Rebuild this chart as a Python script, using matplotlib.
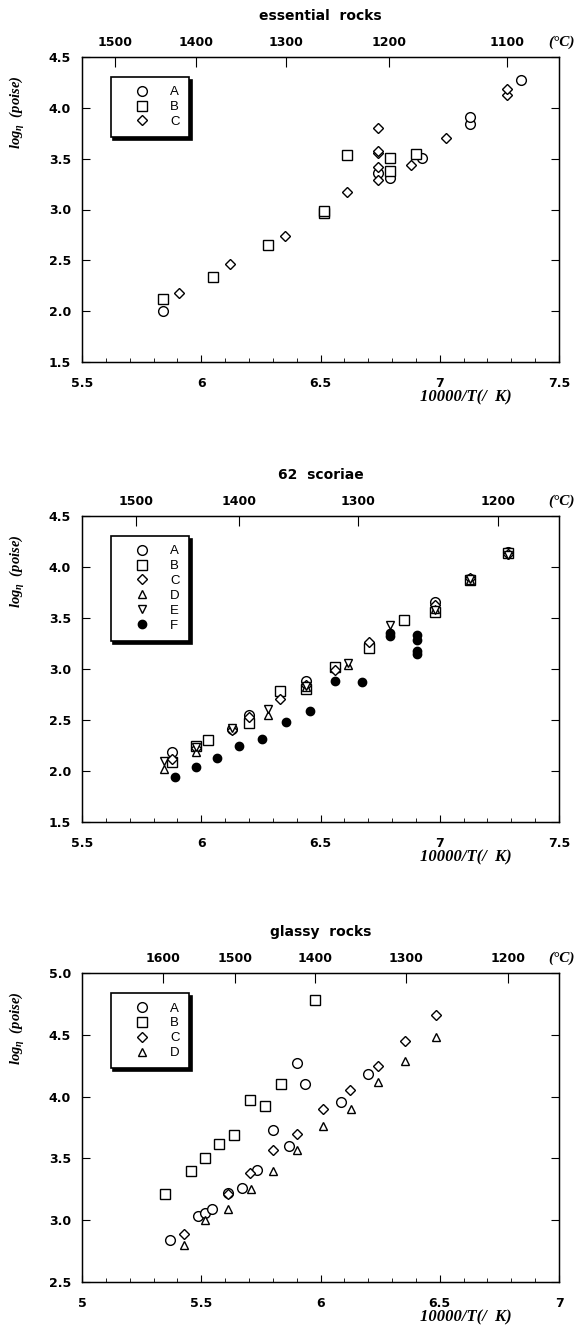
import numpy as np
import matplotlib.pyplot as plt
from matplotlib.ticker import MultipleLocator, FormatStrFormatter

plt.rcParams['mathtext.fontset'] = 'custom'
plt.rcParams['mathtext.it'] = 'Liberation Serif:italic:bold'
plt.rcParams['mathtext.rm'] = 'Liberation Serif:bold'

# ---------------- essential rocks ----------------
ess_A_x = [5.84, 6.74, 6.79, 6.925, 7.127, 7.127, 7.339]
ess_A_y = [2.00, 3.36, 3.31, 3.51, 3.84, 3.91, 4.27]
ess_B_x = [5.84, 6.05, 6.28, 6.515, 6.515, 6.61, 6.79, 6.79, 6.90]
ess_B_y = [2.12, 2.34, 2.65, 2.97, 2.99, 3.54, 3.51, 3.38, 3.55]
ess_C_x = [5.905, 6.12, 6.35, 6.61, 6.74, 6.74, 6.74, 6.74, 6.74, 6.88, 7.025, 7.283, 7.283]
ess_C_y = [2.18, 2.46, 2.74, 3.17, 3.29, 3.42, 3.56, 3.58, 3.80, 3.44, 3.70, 4.13, 4.19]
ess_temps = [1500, 1400, 1300, 1200, 1100]

# ---------------- 62 scoriae ----------------
sco_A_x = [5.878, 6.13, 6.20, 6.44, 6.56, 6.705, 6.979, 7.128, 7.287]
sco_A_y = [2.19, 2.41, 2.55, 2.885, 3.01, 3.24, 3.66, 3.88, 4.15]
sco_B_x = [5.878, 5.976, 6.03, 6.20, 6.33, 6.44, 6.56, 6.705, 6.85, 6.979, 7.128, 7.287]
sco_B_y = [2.09, 2.25, 2.30, 2.47, 2.78, 2.80, 3.02, 3.21, 3.48, 3.56, 3.87, 4.14]
sco_C_x = [5.878, 5.976, 6.13, 6.20, 6.33, 6.44, 6.56, 6.705, 6.979, 7.128, 7.287]
sco_C_y = [2.12, 2.23, 2.40, 2.53, 2.71, 2.84, 2.99, 3.26, 3.63, 3.89, 4.13]
sco_D_x = [5.845, 5.976, 6.28, 6.44, 6.615, 6.979, 7.128]
sco_D_y = [2.02, 2.19, 2.55, 2.82, 3.04, 3.59, 3.87]
sco_E_x = [5.845, 5.976, 6.13, 6.28, 6.44, 6.615, 6.79, 6.979, 7.128, 7.287]
sco_E_y = [2.10, 2.24, 2.42, 2.61, 2.83, 3.06, 3.43, 3.58, 3.88, 4.12]
sco_F_x = [5.889, 5.976, 6.068, 6.157, 6.254, 6.354, 6.457, 6.561, 6.674, 6.79, 6.79,
           6.906, 6.906, 6.906, 6.906]
sco_F_y = [1.94, 2.04, 2.13, 2.25, 2.31, 2.48, 2.59, 2.88, 2.87, 3.32, 3.35,
           3.33, 3.28, 3.18, 3.15]
sco_temps = [1500, 1400, 1300, 1200]
sco_temps_pos = [5.728, 6.158, 6.658, 7.243]   # asi esta dibujado en el original

# ---------------- glassy rocks ----------------
gla_A_x = [5.369, 5.485, 5.516, 5.545, 5.611, 5.67, 5.734, 5.80, 5.868, 5.90, 5.934, 6.085, 6.198]
gla_A_y = [2.84, 3.03, 3.055, 3.09, 3.22, 3.26, 3.41, 3.73, 3.60, 4.27, 4.10, 3.96, 4.18]
gla_B_x = [5.346, 5.455, 5.515, 5.576, 5.639, 5.704, 5.768, 5.834, 5.975]
gla_B_y = [3.215, 3.395, 3.50, 3.62, 3.69, 3.97, 3.92, 4.10, 4.78]
gla_C_x = [5.427, 5.611, 5.704, 5.80, 5.903, 6.011, 6.123, 6.241, 6.356, 6.484]
gla_C_y = [2.89, 3.21, 3.38, 3.565, 3.70, 3.90, 4.05, 4.25, 4.446, 4.66]
gla_D_x = [5.427, 5.515, 5.611, 5.708, 5.80, 5.903, 6.011, 6.126, 6.241, 6.356, 6.484]
gla_D_y = [2.80, 3.00, 3.09, 3.25, 3.40, 3.565, 3.76, 3.90, 4.12, 4.29, 4.48]
gla_temps = [1600, 1500, 1400, 1300, 1200]

# estilos de los simbolos
estilos = {
    'A': dict(marker='o', ms=7, mfc='white'),
    'B': dict(marker='s', ms=7, mfc='white'),
    'C': dict(marker='D', ms=5.5, mfc='white'),
    'D': dict(marker='^', ms=6, mfc='white'),
    'E': dict(marker='v', ms=6, mfc='white'),
    'F': dict(marker='o', ms=6, mfc='black'),
}

fig = plt.figure(figsize=(5.76, 13.31), dpi=100)
W, H = 576, 1331


def crear_ejes(top_px, bot_px):
    return fig.add_axes([82 / W, 1 - bot_px / H, 477 / W, (bot_px - top_px) / H])


def armar_panel(ax, series, xlim, ylim, top_pos, top_labels, titulo):
    for letra, x, y in series:
        ax.plot(x, y, linestyle='none', mec='black', mew=1.0, label=letra, **estilos[letra])
    ax.set_xlim(xlim)
    ax.set_ylim(ylim)
    ax.xaxis.set_major_locator(MultipleLocator(0.5))
    ax.xaxis.set_minor_locator(MultipleLocator(0.1))
    ax.yaxis.set_major_locator(MultipleLocator(0.5))
    ax.xaxis.set_major_formatter(FormatStrFormatter('%g'))
    ax.yaxis.set_major_formatter(FormatStrFormatter('%.1f'))
    ax.tick_params(axis='x', which='major', direction='in', length=5, pad=11)
    ax.tick_params(axis='x', which='minor', direction='in', length=3)
    ax.tick_params(axis='y', which='major', direction='in', length=6, pad=8,
                   left=True, right=True)
    for lab in ax.get_xticklabels() + ax.get_yticklabels():
        lab.set_fontfamily('DejaVu Sans')
        lab.set_fontweight('bold')
        lab.set_fontsize(9)
    for sp in ax.spines.values():
        sp.set_linewidth(1.0)

    # eje superior en grados C
    ax2 = ax.twiny()
    ax2.set_xlim(xlim)
    ax2.set_xticks(top_pos)
    ax2.set_xticklabels([str(t) for t in top_labels], fontfamily='DejaVu Sans',
                        fontweight='bold', fontsize=9)
    ax2.tick_params(axis='x', direction='in', length=7, pad=6)
    ax2.annotate('(°C)', xy=(1.034, 1.0), xycoords='axes fraction', xytext=(0, 5.5),
                 textcoords='offset points', ha='right', va='bottom',
                 fontfamily='Liberation Serif', fontstyle='italic', fontweight='bold',
                 fontsize=11)

    ax.annotate(titulo, xy=(0.5, 1.0), xycoords='axes fraction', xytext=(0, 29.5),
                textcoords='offset points', ha='center', va='center',
                fontfamily='DejaVu Sans', fontweight='bold', fontsize=10)
    ax.annotate(r'$log_{\eta}$  (poise)', xy=(0.0, 1.0), xycoords='axes fraction',
                xytext=(-46.5, -40), textcoords='offset points', ha='center', va='center',
                rotation=90, fontfamily='Liberation Serif', fontstyle='italic',
                fontweight='bold', fontsize=10.5)
    ax.annotate('10000/T(/  K)', xy=(1.0, 0.0), xycoords='axes fraction',
                xytext=(-34, -19.5), textcoords='offset points', ha='right', va='top',
                fontfamily='Liberation Serif', fontstyle='italic', fontweight='bold',
                fontsize=12)

    leg = ax.legend(loc='upper left', bbox_to_anchor=(0.06, 0.935), frameon=True,
                    fancybox=False, edgecolor='black', framealpha=1,
                    shadow={'color': 'black', 'alpha': 1},
                    borderpad=0.7, handlelength=3.4, handletextpad=0.4,
                    labelspacing=0.2, borderaxespad=0,
                    prop={'family': 'Liberation Sans', 'size': 9.5})
    leg.get_frame().set_linewidth(1.2)


def temp_a_x(temps):
    return [10000 / (t + 273.15) for t in temps]


ax1 = crear_ejes(57, 362)
armar_panel(ax1, [('A', ess_A_x, ess_A_y), ('B', ess_B_x, ess_B_y), ('C', ess_C_x, ess_C_y)],
            (5.5, 7.5), (1.5, 4.5), temp_a_x(ess_temps), ess_temps, 'essential  rocks')

ax2 = crear_ejes(516, 822)
armar_panel(ax2, [('A', sco_A_x, sco_A_y), ('B', sco_B_x, sco_B_y), ('C', sco_C_x, sco_C_y),
                  ('D', sco_D_x, sco_D_y), ('E', sco_E_x, sco_E_y), ('F', sco_F_x, sco_F_y)],
            (5.5, 7.5), (1.5, 4.5), sco_temps_pos, sco_temps, '62  scoriae')

ax3 = crear_ejes(973, 1282)
armar_panel(ax3, [('A', gla_A_x, gla_A_y), ('B', gla_B_x, gla_B_y), ('C', gla_C_x, gla_C_y),
                  ('D', gla_D_x, gla_D_y)],
            (5.0, 7.0), (2.5, 5.0), temp_a_x(gla_temps), gla_temps, 'glassy  rocks')

fig.savefig('out.png', dpi=100)
